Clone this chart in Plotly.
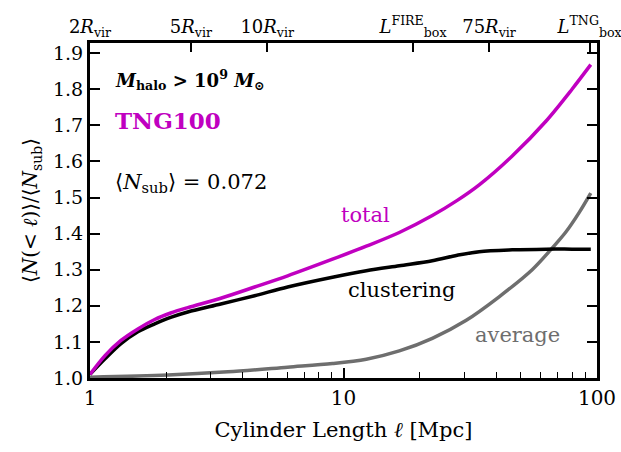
import plotly.graph_objects as go

# cylinder length (Mpc)
ell = [1.0, 1.146, 1.325, 1.545, 1.80, 2.08, 2.43, 3.28, 4.46, 6.02, 9.05, 12.3, 16.6, 22.4, 28.1, 34.3, 46.3, 63.0, 79.7, 94.5]
total = [1.01, 1.062, 1.104, 1.136, 1.162, 1.18, 1.195, 1.221, 1.252, 1.283, 1.329, 1.365, 1.403, 1.450, 1.492, 1.535, 1.615, 1.712, 1.80, 1.868]
clustering = [1.01, 1.053, 1.095, 1.128, 1.150, 1.168, 1.183, 1.205, 1.228, 1.252, 1.279, 1.297, 1.311, 1.325, 1.340, 1.350, 1.355, 1.357, 1.357, 1.357]

ell_avg = [1.0, 2.03, 3.5, 6.02, 9.05, 12.3, 16.6, 22.4, 30.5, 41.1, 55.5, 64.7, 75.5, 85.0, 94.5]
average = [1.002, 1.008, 1.017, 1.030, 1.040, 1.052, 1.075, 1.110, 1.160, 1.225, 1.300, 1.350, 1.405, 1.458, 1.512]

top_tickvals = [1.0, 2.5, 5.0, 18.8, 37.5, 93.5]
top_ticktext = ["2<i>R</i><sub>vir</sub>", "5<i>R</i><sub>vir</sub>", "10<i>R</i><sub>vir</sub>",
                "<i>L</i><sup>FIRE</sup><sub>box</sub>", "75<i>R</i><sub>vir</sub>",
                "<i>L</i><sup>TNG</sup><sub>box</sub>"]

y_ticks = [1.0, 1.1, 1.2, 1.3, 1.4, 1.5, 1.6, 1.7, 1.8, 1.9]

MAG = "#C000C0"
GRAY = "#6E6E6E"
FONT = "DejaVu Serif"

fig = go.Figure()
fig.add_trace(go.Scatter(x=ell_avg, y=average, mode="lines", line=dict(color=GRAY, width=3.5, shape="spline", smoothing=0.9), showlegend=False))
fig.add_trace(go.Scatter(x=ell, y=clustering, mode="lines", line=dict(color="black", width=3.5, shape="spline", smoothing=0.9), showlegend=False))
fig.add_trace(go.Scatter(x=ell, y=total, mode="lines", line=dict(color=MAG, width=3.5, shape="spline", smoothing=0.9), showlegend=False))
# dummy for top axis
fig.add_trace(go.Scatter(x=[1, 100], y=[1.0, 1.0], xaxis="x2", mode="lines", line=dict(width=0), hoverinfo="skip", showlegend=False))

fig.update_layout(
    width=621, height=452,
    margin=dict(l=90, r=24, t=43, b=74),
    paper_bgcolor="white", plot_bgcolor="white",
    font=dict(family=FONT, size=19, color="black"),
    xaxis=dict(
        type="log", range=[0, 2], showgrid=False, zeroline=False, automargin=False,
        showline=True, linewidth=3, linecolor="black",
        ticks="inside", ticklen=10, tickwidth=1.5, tickcolor="black",
        tickvals=[1, 10, 100], ticktext=["1", "10", "100"],
        minor=dict(ticks="inside", ticklen=6, tickwidth=1.2, tickcolor="black",
                   tickvals=[2, 3, 4, 5, 6, 7, 8, 9, 20, 30, 40, 50, 60, 70, 80, 90], showgrid=False),
        title=dict(text="Cylinder Length <i>ℓ</i> [Mpc]", standoff=14, font=dict(size=21)),
        tickfont=dict(size=20), ticklabeloverflow="allow",
    ),
    xaxis2=dict(
        type="log", range=[0, 2], overlaying="x", side="top", showgrid=False, zeroline=False, automargin=False,
        showline=True, linewidth=3, linecolor="black",
        ticks="inside", ticklen=9, tickwidth=1.5, tickcolor="black",
        tickvals=top_tickvals, ticktext=top_ticktext, tickfont=dict(size=18), ticklabeloverflow="allow",
    ),
    yaxis=dict(
        range=[1.0, 1.928], showgrid=False, zeroline=False, automargin=False,
        showline=True, linewidth=3, linecolor="black", mirror="ticks",
        ticks="inside", ticklen=10, tickwidth=1.5, tickcolor="black",
        tickvals=y_ticks, tickformat=".1f", tickfont=dict(size=19), ticklabeloverflow="allow",
        title=dict(text="⟨<i>N</i>(&lt; <i>ℓ</i>)⟩/⟨<i>N</i><sub>sub</sub>⟩", standoff=10, font=dict(size=20)),
    ),
)

fig.add_annotation(xref="paper", yref="paper", x=0.045, y=0.89, xanchor="left", yanchor="middle", showarrow=False,
                   text="<b><i>M</i><sub>halo</sub> &gt; 10<sup>9</sup> <i>M</i><sub>⊙</sub></b>", font=dict(size=18))
fig.add_annotation(xref="paper", yref="paper", x=0.045, y=0.77, xanchor="left", yanchor="middle", showarrow=False,
                   text="<b>TNG100</b>", font=dict(size=23, color=MAG))
fig.add_annotation(xref="paper", yref="paper", x=0.045, y=0.582, xanchor="left", yanchor="middle", showarrow=False,
                   text="⟨<i>N</i><sub>sub</sub>⟩ = 0.072", font=dict(size=21))
fig.add_annotation(xref="paper", yref="paper", x=0.544, y=0.487, xanchor="center", yanchor="middle", showarrow=False,
                   text="total", font=dict(size=21, color=MAG))
fig.add_annotation(xref="paper", yref="paper", x=0.615, y=0.263, xanchor="center", yanchor="middle", showarrow=False,
                   text="clustering", font=dict(size=21, color="black"))
fig.add_annotation(xref="paper", yref="paper", x=0.844, y=0.128, xanchor="center", yanchor="middle", showarrow=False,
                   text="average", font=dict(size=21, color=GRAY))

fig.write_html("out.html")
